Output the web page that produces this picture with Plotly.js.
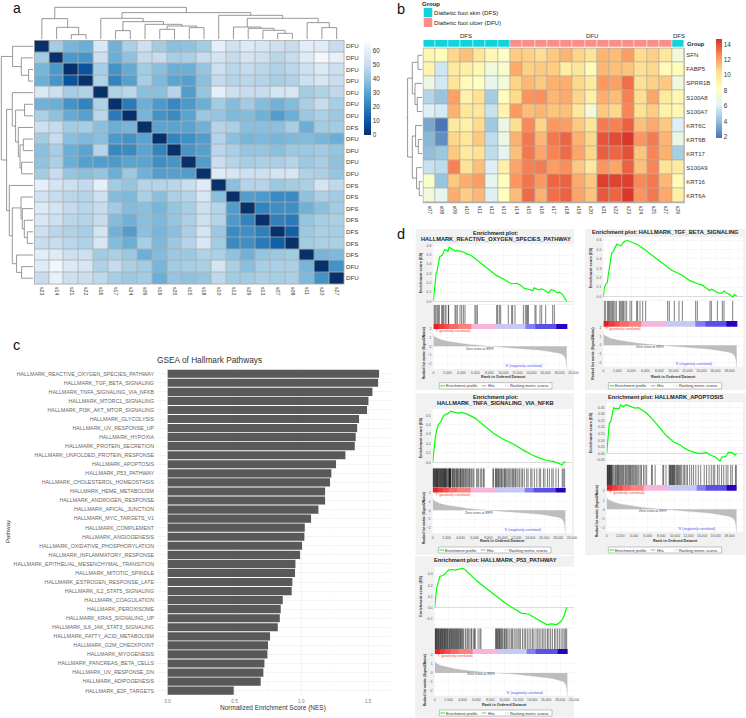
<!DOCTYPE html>
<html><head><meta charset="utf-8">
<script src="https://cdn.plot.ly/plotly-3.0.1.min.js"></script>
<style>html,body{margin:0;padding:0;background:#fff}#p{width:746px;height:718px}</style>
</head><body><div id="p"></div>
<script>
// ---------- panel a data ----------
const colsA=['s23','s14','s21','s22','s16','s17','s24','s09','s19','s25','s15','s18','s10','s12','s29','s13','s07','s08','s11','s20','s27'];
const rowsA=['DFU','DFU','DFU','DFU','DFU','DFU','DFU','DFS','DFU','DFU','DFU','DFU','DFS','DFS','DFS','DFS','DFS','DFS','DFS','DFU','DFU'];
const matrixA=[
[0,42,35,33,56,34,44,52,42,38,39,42,60,53,57,55,52,50,59,58,50],
[42,0,27,26,52,33,39,49,50,43,44,50,54,50,54,52,47,50,58,64,61],
[35,27,0,9,43,25,32,42,38,33,33,40,52,47,49,47,45,47,52,57,52],
[33,26,9,0,45,21,29,43,36,30,29,38,49,46,47,46,43,45,52,55,51],
[56,52,43,45,0,45,47,38,38,46,28,40,60,52,50,50,54,55,42,45,48],
[34,33,25,21,45,0,19,33,27,22,27,33,42,37,42,37,34,37,44,50,43],
[44,39,32,29,47,19,0,35,25,23,30,41,40,36,37,34,28,33,41,44,41],
[52,49,42,43,38,33,35,0,30,30,30,34,46,44,38,38,38,43,33,42,42],
[42,50,38,36,38,27,25,30,0,21,24,28,46,38,35,36,35,36,37,35,33],
[38,43,33,30,46,22,23,30,21,0,26,29,47,44,40,40,38,41,41,42,40],
[39,44,33,29,28,27,30,30,24,26,0,28,51,46,43,44,44,46,41,43,39],
[42,50,40,38,40,33,41,34,28,29,28,0,58,55,52,52,54,55,45,44,40],
[60,54,52,49,60,42,40,46,46,47,51,58,0,38,46,46,41,42,44,54,48],
[53,50,47,46,52,37,36,44,38,44,46,55,38,0,28,27,23,23,39,44,42],
[57,54,49,47,50,42,37,38,35,40,43,52,46,28,0,21,24,24,34,38,42],
[55,52,47,46,50,37,34,38,36,40,44,52,46,27,21,0,20,19,40,43,44],
[52,47,45,43,54,34,28,38,35,38,44,54,41,23,24,20,0,12,41,44,43],
[50,50,47,45,55,37,33,43,36,41,46,55,42,23,24,19,12,0,42,44,44],
[59,58,52,52,42,44,41,33,37,41,41,45,44,39,34,40,41,42,0,35,36],
[58,64,57,55,45,50,44,42,35,42,43,44,54,44,38,43,44,44,35,0,25],
[50,61,52,51,48,43,41,42,33,40,39,40,48,42,42,44,43,44,36,25,0]];
// merges: [child, child, height]; child >=0 is a leaf, -k is the k-th merge
const dendroA=[[2,3,4.7],[1,-1,12],[0,-2,20.7],[5,6,8.7],[8,9,10],[10,11,11.7],[-5,-6,13.3],[7,-7,15],[-4,-8,17.7],[4,-9,21],
[16,17,6],[15,-11,9],[14,-12,11],[13,-13,12.3],[19,20,11.7],[18,-15,16.7],[-14,-16,21],[12,-17,24],[-10,-18,26.7],[-3,-19,32]];
// ---------- panel b data ----------
const colsB=['s07','s08','s09','s10','s11','s12','s13','s14','s15','s16','s17','s18','s19','s20','s21','s22','s23','s24','s25','s27','s29'];
const groupB=[0,0,0,0,0,0,0,1,1,1,1,1,1,1,1,1,1,1,1,1,0];
const genesB=['SFN','FABP5','SPRR1B','S100A8','S100A7','KRT6C','KRT6B','KRT17','S100A9','KRT16','KRT6A'];
const matrixB=[
[8.9,8.4,10.6,11.2,10,8.8,8.0,10.9,10.8,10.4,11,11.5,10.7,10.1,11.5,11.3,12.1,10.5,10.8,9.9,7.3],
[9,5.6,9.7,9.4,8.7,7.3,7.7,11.8,10.8,11,10.9,9.5,10,8.5,11.4,11.2,11.1,10.3,10.6,8.6,8.5],
[7,5.7,10,8.5,8.2,6.5,7.4,10.7,11.4,11,11.6,11.7,10.6,9.7,12.2,12,13.2,10.3,10.8,11,7.2],
[4.9,4.2,12,9.2,10.2,4.5,8.4,10.5,12.4,12.5,11.5,11.8,10.7,9.3,11.7,11.3,12.8,10.4,11.9,9.7,8.8],
[6,5.8,11.6,9.9,9.8,5.4,9,12.2,11.3,11.5,11.1,11.2,9.8,7.4,11,10.6,12.7,10.2,10.9,9.1,8.8],
[3.3,1.9,9.7,9.3,10.5,4.4,6.8,10.4,12.6,10.7,12.2,12.1,11,10,12.9,12.8,13.5,11.2,11.8,11,6],
[3.8,2.6,10.6,9.9,11,5.2,6.9,11.6,13,11.4,13,13.4,11.6,10.6,13.8,14,14.5,12.3,12.9,11.5,6.8],
[4,4.3,11,9.7,10.2,5.2,6.3,11.2,13,11.9,12.7,13.3,11.9,10.6,13.6,13.4,13.9,11.1,12.7,11.6,4.6],
[5.4,5.2,12.8,10.2,11.2,6,9.3,11.9,12.8,12.9,12.1,12.5,11,9.7,12.3,11.9,13.5,11.2,12.7,10.1,9.6],
[7.9,4.2,11,11.7,12.1,6.5,8.3,12.3,13.1,12.2,13.4,13.5,11.8,11,14.3,14.2,14.3,12.6,13,11.4,8.5],
[7.2,6.5,11.7,10.9,11.4,6,8.3,11.3,13.3,11.6,13.2,13.5,11.9,11.1,13.7,13.4,14.5,12.3,13,11.8,9.4]];
const dendroB=[[0,1,4.3],[3,4,5],[2,-2,7.3],[-1,-3,10],[6,7,4],[5,-5,6.7],[9,10,3],[8,-7,5.7],[-6,-8,10],[-4,-9,14.7]];
// ---------- panel c data ----------
const pathways=['HALLMARK_REACTIVE_OXYGEN_SPECIES_PATHWAY','HALLMARK_TGF_BETA_SIGNALING','HALLMARK_TNFA_SIGNALING_VIA_NFKB','HALLMARK_MTORC1_SIGNALING','HALLMARK_PI3K_AKT_MTOR_SIGNALING','HALLMARK_GLYCOLYSIS','HALLMARK_UV_RESPONSE_UP','HALLMARK_HYPOXIA','HALLMARK_PROTEIN_SECRETION','HALLMARK_UNFOLDED_PROTEIN_RESPONSE','HALLMARK_APOPTOSIS','HALLMARK_P53_PATHWAY','HALLMARK_CHOLESTEROL_HOMEOSTASIS','HALLMARK_HEME_METABOLISM','HALLMARK_ANDROGEN_RESPONSE','HALLMARK_APICAL_JUNCTION','HALLMARK_MYC_TARGETS_V1','HALLMARK_COMPLEMENT','HALLMARK_ANGIOGENESIS','HALLMARK_OXIDATIVE_PHOSPHORYLATION','HALLMARK_INFLAMMATORY_RESPONSE','HALLMARK_EPITHELIAL_MESENCHYMAL_TRANSITION','HALLMARK_MITOTIC_SPINDLE','HALLMARK_ESTROGEN_RESPONSE_LATE','HALLMARK_IL2_STAT5_SIGNALING','HALLMARK_COAGULATION','HALLMARK_PEROXISOME','HALLMARK_KRAS_SIGNALING_UP','HALLMARK_IL6_JAK_STAT3_SIGNALING','HALLMARK_FATTY_ACID_METABOLISM','HALLMARK_G2M_CHECKPOINT','HALLMARK_MYOGENESIS','HALLMARK_PANCREAS_BETA_CELLS','HALLMARK_UV_RESPONSE_DN','HALLMARK_ADIPOGENESIS','HALLMARK_E2F_TARGETS'];
const nes=[1.582,1.575,1.532,1.502,1.492,1.432,1.418,1.407,1.400,1.330,1.260,1.225,1.215,1.178,1.178,1.128,1.073,1.026,1.023,1.006,0.991,0.956,0.953,0.933,0.928,0.861,0.846,0.839,0.824,0.766,0.751,0.746,0.724,0.716,0.696,0.494];
// ---------- panel d data ----------
const rankMetricX=[0,30,200,500,1000,2000,3000,4000,5000,6000,7000,8000,8999,10000,11000,12000,13000,14000,15000,16000,17000,18000,18500,18800,18950,19050];
const rankMetricY=[1.5,1.3,1.1,0.95,0.8,0.6,0.45,0.33,0.22,0.14,0.08,0.03,0,-0.05,-0.1,-0.18,-0.25,-0.33,-0.42,-0.52,-0.63,-0.8,-0.95,-1.25,-1.7,-2.7];
const barEdges=[0,700,1500,2300,3500,5450,9000,13200,14500,17600,19100];
const barColors=['#e81f1f','#ee3a3a','#f45050','#f76a6a','#fb8080','#f6b6dc','#c8c8f6','#8080f0','#5a50e6','#2a00c0'];
const esRos=[[0,150,250,300,400,500,700,800,900,1100,1300,1500,1700,1900,2100,2250,2600,2900,3200,3400,3800,4400,4800,5300,6000,7000,8000,9000,10000,11000,11400,11900,12500,13000,13800,14200,14400,15000,15500,16000,16500,16800,17200,17800,18000,18500,19050],
[0,.12,.16,.26,.30,.31,.38,.44,.48,.49,.50,.54,.56,.55,.54,.585,.565,.555,.54,.55,.545,.53,.51,.50,.46,.40,.34,.28,.24,.195,.19,.195,.17,.14,.125,.115,.145,.125,.135,.11,.09,.125,.12,.09,.10,.07,0]];
const esTgf=[[0,140,330,570,710,860,1000,1190,1430,1670,1900,2240,2520,2860,3100,3480,4050,4760,5710,6900,8330,9760,11190,12380,13330,14050,14760,15140,15480,15950,16430,16900,17240,17620,18100,18480,18710,19050],
[0,.09,.13,.15,.23,.30,.41,.46,.48,.53,.555,.548,.54,.575,.59,.595,.58,.555,.51,.44,.355,.28,.23,.17,.14,.125,.09,.065,.08,.06,.04,.035,.06,.04,.02,-.005,.025,.005]];
const esTnfa=[[0,100,240,380,570,810,1150,1530,1870,2250,2580,3210,3680,4160,4880,6080,7270,8710,10140,11580,13010,14210,15170,16360,17320,18040,18610,18850,19090],
[0,.095,.18,.27,.34,.40,.43,.49,.51,.52,.545,.53,.52,.53,.515,.47,.40,.31,.245,.195,.13,.08,.05,.02,.01,-.005,-.025,.005,0]];
const esApop=[[0,100,240,390,590,830,1030,1220,1470,1810,2050,2440,2790,3180,3670,4160,4650,5130,5870,6850,7820,8800,9780,10760,11490,12470,13450,14180,14670,15160,15890,16630,16920,17460,17850,18340,18830,19070],
[0,.078,.154,.23,.24,.305,.35,.34,.343,.34,.368,.355,.37,.363,.353,.345,.348,.33,.305,.254,.196,.133,.09,.065,.04,.015,.0025,.0025,.01,-.01,-.023,-.055,-.025,-.023,.01,.0075,-.01,-.003]];
const esP53=[[0,140,290,480,770,1100,1480,1960,2440,2920,3400,3970,4350,5070,6030,7460,8900,10330,11530,12490,13440,14160,15120,16070,16790,17510,17990,18330,18570,18800,18950],
[0,.10,.175,.22,.28,.285,.30,.335,.34,.335,.345,.35,.34,.30,.24,.17,.10,.035,-.012,-.047,-.053,-.077,-.11,-.147,-.14,-.147,-.127,-.10,-.07,-.018,.006]];
const hitsRos=[100,240,380,570,710,860,1190,1330,1430,1670,1810,2140,2190,3100,3240,3430,3810,4050,4290,4520,5950,6100,6290,9050,9190,9430,9620,10710,11190,11330,11670,12860,13140,13330,13480,13570,14520,14670,15240,15480,16050,17050,17290];
const hitsTgf=[140,330,620,710,860,1000,1190,1330,1480,1670,1860,2290,2430,2620,2760,2900,3100,3330,3810,4050,4760,4900,5240,5620,6050,9190,9430,10140,10810,11290,13190,13430,15240,15430,16290,17000,17240,18480];
const hitsTnfa=[30,90,160,220,300,350,430,500,540,610,690,740,800,880,960,1030,1100,1180,1220,1290,1400,1450,1520,1590,1640,1700,1780,1830,1900,1960,2050,2110,2290,2340,2380,2420,2460,2510,2560,2590,2770,2840,2950,3050,3120,3240,3380,3470,3530,3640,3760,3890,4000,4060,4190,4300,4420,4540,4690,4800,4930,5070,5210,5300,5480,5610,5790,5930,6310,6480,6620,6900,7050,7280,7400,8650,8720,9000,9080,9190,9280,9420,9510,9640,9790,9880,10050,10230,10320,10460,10620,10800,10950,11100,11270,11460,11610,11790,11900,12100,12260,12480,12700,12900,13150,13500,13700,14080,14260,14600,14950,15300,15500,15900,16120,16480,16750,17100,17300,17700,18050,18600,18750,18950];
const hitsApop=[40,90,150,210,290,350,410,470,530,600,670,730,810,920,1070,1230,1330,1490,1560,1660,1750,1900,2010,2170,2300,2440,2550,2740,2850,2980,3130,3250,3370,3520,3600,3770,3910,4050,4220,4370,4560,4720,4930,5110,5410,5630,5870,6590,6700,7110,8240,8360,8710,9150,9250,9320,9400,9490,9590,9670,9760,9840,9930,10010,10170,10290,10400,10530,10680,10820,11000,11240,11430,11650,11850,12180,12470,12750,13080,13440,13800,14310,14660,15020,15350,15640,15850,16250,16500,16860,17170,17530,17790,18200,18430,18890,19020];
const hitsP53=[40,110,180,240,310,370,460,540,600,670,780,850,930,1000,1090,1160,1240,1340,1420,1490,1560,1680,1760,1850,1930,2050,2130,2250,2340,2430,2520,2610,2720,2810,2900,3010,3100,3190,3300,3380,3480,3600,3700,3790,3900,4030,4120,4380,4500,4750,4820,5060,5250,5340,5620,5700,5830,6230,6500,6640,8760,8830,8920,9040,9110,9230,9300,9420,9530,9640,9760,9950,10040,10200,10320,10500,10700,10960,11100,11230,11500,11700,11950,12120,12300,12600,12850,13050,13300,13550,13800,14050,14250,14550,14800,15000,15250,15500,15700,15950,16200,16400,16650,16900,17200,17400,17650,17900,18150,18400,18600,18800,18950];

// ---------- helpers ----------
const W=746,H=718,FONT='"Liberation Sans",Arial,sans-serif';
const layout={width:W,height:H,margin:{l:0,r:0,t:0,b:0,autoexpand:false},paper_bgcolor:'#fff',plot_bgcolor:'rgba(0,0,0,0)',showlegend:false,font:{family:FONT},shapes:[],annotations:[]};
const traces=[];
let nAxes=0;
const hd=(a,b)=>[a/W,b/W],vd=(a,b)=>[1-b/H,1-a/H];
function pair(xr,yr,xo,yo){
  const n=++nAxes,s=n===1?'':String(n),base={showgrid:false,zeroline:false,showticklabels:false,ticks:'',showline:false,automargin:false};
  layout['xaxis'+s]=Object.assign({},base,{domain:hd(xr[0],xr[1]),anchor:'y'+s},xo||{});
  layout['yaxis'+s]=Object.assign({},base,{domain:vd(yr[0],yr[1]),anchor:'x'+s},yo||{});
  return {xaxis:'x'+s,yaxis:'y'+s};
}
function rect(x0,x1,y0,y1,fill,line,lw){layout.shapes.push({type:'rect',xref:'paper',yref:'paper',layer:'below',x0:x0/W,x1:x1/W,y0:1-y0/H,y1:1-y1/H,fillcolor:fill,line:{color:line||fill,width:line?(lw||0.5):0}});}
function seg(x0,x1,y,color,w){layout.shapes.push({type:'line',xref:'paper',yref:'paper',x0:x0/W,x1:x1/W,y0:1-y/H,y1:1-y/H,line:{color:color,width:w||1}});}
function txt(t,x,y,size,o){o=o||{};layout.annotations.push({text:t,xref:'paper',yref:'paper',x:x/W,y:1-y/H,showarrow:false,xanchor:o.a||'left',yanchor:'middle',align:o.a||'left',textangle:o.r||0,font:{size:size,color:o.c||'#222',family:FONT},borderpad:0,borderwidth:0});}
function dendro(merges,n,ax,horizontal,stub){
  const pos=[],hgt=[],xs=[],ys=[];
  const P=c=>c>=0?c:pos[-c-1],Q=c=>c>=0?0:hgt[-c-1];
  merges.forEach(m=>{
    const p0=P(m[0]),p1=P(m[1]),h0=Q(m[0]),h1=Q(m[1]),h=m[2];
    pos.push((p0+p1)/2);hgt.push(h);
    xs.push(p0,p0,p1,p1,null);ys.push(h0,h,h,h1,null);
  });
  if(stub){xs.push(pos[pos.length-1],pos[pos.length-1],null);ys.push(hgt[hgt.length-1],hgt[hgt.length-1]+stub,null);}
  traces.push(Object.assign({type:'scatter',mode:'lines',x:horizontal?ys:xs,y:horizontal?xs:ys,line:{color:'#7d7d7d',width:0.8},hoverinfo:'skip'},ax));
}
const idx=a=>a.map((_,i)=>i);

// ---------- panel letters ----------
txt('a',12.5,8,14,{c:'#111'});txt('b',396.5,9,14.5,{c:'#111'});txt('c',12.5,345,14.5,{c:'#111'});txt('d',396.5,234.5,14.5,{c:'#111'});

// ---------- panel a ----------
const ax0=34.5,ax1=344,ay0=40.5,ay1=284;
rect(ax0-0.5,ax1+0.5,ay0-0.5,ay1+0.5,'#adadad');
const aAxes=pair([ax0,ax1],[ay0,ay1],
 {range:[-0.5,20.5],tickvals:idx(colsA),ticktext:colsA,showticklabels:true,tickangle:90,tickfont:{size:5.2,color:'#333'},ticklabelstandoff:2},
 {range:[20.5,-0.5],tickvals:idx(rowsA),ticktext:rowsA,showticklabels:true,side:'right',tickfont:{size:6.2,color:'#333'},ticklabelstandoff:1});
traces.push(Object.assign({type:'heatmap',x:idx(colsA),y:idx(rowsA),z:matrixA,zmin:0,zmax:66,xgap:0.8,ygap:0.8,hoverinfo:'skip',
 colorscale:[[0,'#08306b'],[.125,'#08519c'],[.25,'#2171b5'],[.375,'#4292c6'],[.5,'#6baed6'],[.625,'#9ecae1'],[.75,'#c6dbef'],[.875,'#deebf7'],[1,'#f7fbff']],
 colorbar:{thickness:7,thicknessmode:'pixels',len:92.7,lenmode:'pixels',x:364/W,xanchor:'left',y:1-42/H,yanchor:'top',xpad:0,ypad:0,outlinewidth:0,ticks:'',tickvals:[0,10,20,30,40,50,60],tickfont:{size:6.3,color:'#333'},ticklabelpad:1}},aAxes));
dendro(dendroA,21,pair([ax0,ax1],[3,39.33],{range:[-0.5,20.5]},{range:[0,36.33]}),false);
dendro(dendroA,21,pair([0,33.3],[ay0,ay1],{range:[33.3,0]},{range:[20.5,-0.5]}),true);

// ---------- panel b ----------
const bx0=423.3,bx1=684.3,by0=48.3,by1=202.7;
rect(bx0-0.5,bx1+0.5,by0-0.5,by1+0.5,'#adadad');
const bAxes=pair([bx0,bx1],[by0,by1],
 {range:[-0.5,20.5],tickvals:idx(colsB),ticktext:colsB,showticklabels:true,tickangle:90,tickfont:{size:5.2,color:'#333'},ticklabelstandoff:2},
 {range:[10.5,-0.5],tickvals:idx(genesB),ticktext:genesB,showticklabels:true,side:'right',tickfont:{size:6,color:'#333'},ticklabelstandoff:1});
traces.push(Object.assign({type:'heatmap',x:idx(colsB),y:idx(genesB),z:matrixB,zmin:1.85,zmax:14.65,xgap:0.8,ygap:0.8,hoverinfo:'skip',
 colorscale:[[0,'#4575b4'],[1/6,'#91bfdb'],[2/6,'#e0f3f8'],[3/6,'#ffffbf'],[4/6,'#fee090'],[5/6,'#fc8d59'],[1,'#d73027']],
 colorbar:{thickness:6,thicknessmode:'pixels',len:99,lenmode:'pixels',x:715.7/W,xanchor:'left',y:1-39.3/H,yanchor:'top',xpad:0,ypad:0,outlinewidth:0,ticks:'',tickvals:[2,4,6,8,10,12,14],tickfont:{size:6.3,color:'#333'},ticklabelpad:2}},bAxes));
traces.push(Object.assign({type:'heatmap',x:idx(colsB),y:[0],z:[groupB],zmin:0,zmax:1,xgap:0.6,showscale:false,hoverinfo:'skip',
 colorscale:[[0,'#10d4dc'],[0.5,'#10d4dc'],[0.5,'#fa8f88'],[1,'#fa8f88']]},pair([bx0,bx1],[40,46.7],{range:[-0.5,20.5]},{range:[-0.5,0.5]})));
dendro(dendroB,11,pair([400,422.3],[by0,by1],{range:[22.3,0]},{range:[10.5,-0.5]}),true,1);
txt('<b>Group</b>',422,3.8,6,{});
rect(423.7,432.3,8,17,'#10d4dc');rect(423.7,432.3,18,27,'#fa8f88');
txt('Diabetic foot skin (DFS)',434,12.5,6.1);txt('Diabetic foot ulcer (DFU)',434,22.5,6.1);
txt('DFS',466,36,6,{a:'center'});txt('DFU',591.5,36,6,{a:'center'});txt('DFS',679,36,6,{a:'center'});
txt('<b>Group</b>',687,43.8,5.8);

// ---------- panel c ----------
const cAxes=pair([157,389.5],[368.3,696.1],
 {range:[-0.08,1.66],tick0:0,dtick:0.5,tickformat:'.1f',showticklabels:true,showgrid:true,gridcolor:'#ececec',gridwidth:0.6,tickfont:{size:4.6,color:'#777'},
  minor:{tickvals:[0.25,0.75,1.25],showgrid:true,gridcolor:'#f5f5f5',gridwidth:0.4},ticklabelstandoff:1},
 {type:'category',range:[35.6,-0.6],showticklabels:true,showgrid:true,gridcolor:'#ececec',gridwidth:0.6,tickfont:{size:5.3,color:'#666'},ticklabelstandoff:2});
traces.push(Object.assign({type:'bar',orientation:'h',x:nes,y:pathways,width:0.9,marker:{color:'#595959',line:{width:0}},hoverinfo:'skip'},cAxes));
txt('GSEA of Hallmark Pathways',156.7,360,8.3,{c:'#333'});
txt('Normalized Enrichment Score (NES)',273,708,6.5,{a:'center',c:'#333'});
txt('Pathway',8,532,6,{a:'center',r:-90,c:'#333'});

// ---------- panel d ----------
const tickLab={size:3.4,color:'#555'};
const panelsD=[
 {ox:400,oy:225,card:[47,522,12,495],x0:100,x1:520,es:[57,237],er:[-.029,.619],ed:.1,eT:'.1f',hits:[240,297],bar:[297,312],rk:[312,432],rr:[-2.615,2.0],leg:[118,456,473,492],
  title:[['Enrichment plot:',285,23],['HALLMARK_REACTIVE_OXYGEN_SPECIES_PATHWAY',287,43]],xt:[310,456],lab1:[63,145],lab2:[72,385],curve:esRos,hit:hitsRos},
 {ox:575,oy:225,card:[30,512,12,495],x0:85,x1:505,es:[37,225],er:[-.035,.629],ed:.1,eT:'.1f',hits:[227,288],bar:[288,305],rk:[305,425],rr:[-2.42,2.11],leg:[100,440,473,492],
  title:[['Enrichment plot: HALLMARK_TGF_BETA_SIGNALING',272,22]],xt:[295,456],lab1:[48,130],lab2:[55,385],curve:esTgf,hit:hitsTgf},
 {ox:400,oy:390,card:[47,522,10,495],x0:98,x1:516,es:[57,232],er:[-.053,.567],ed:.1,eT:'.1f',hits:[235,293],bar:[293,308],rk:[308,430],rr:[-2.65,2.04],leg:[115,453,471,489],
  title:[['Enrichment plot:',285,20],['HALLMARK_TNFA_SIGNALING_VIA_NFKB',287,39]],xt:[308,453],lab1:[63,145],lab2:[72,385],curve:esTnfa,hit:hitsTnfa},
 {ox:575,oy:390,card:[30,512,10,495],x0:95,x1:504,es:[37,222],er:[-.078,.388],ed:.05,eT:'.2f',hits:[224,285],bar:[285,302],rk:[302,425],rr:[-2.48,2.07],leg:[100,440,471,489],
  title:[['Enrichment plot: HALLMARK_APOPTOSIS',271,20]],xt:[300,453],lab1:[48,130],lab2:[65,365],curve:esApop,hit:hitsApop},
 {ox:400,oy:550,card:[45,522,18,503],x0:104,x1:522,es:[50,232],er:[-.171,.365],ed:.1,eT:'.1f',hits:[235,297],bar:[297,313],rk:[313,437],rr:[-2.52,2.07],leg:[118,456,480,498],
  title:[['Enrichment plot: HALLMARK_P53_PATHWAY',287,31]],xt:[313,465],lab1:[63,140],lab2:[74,392],curve:esP53,hit:hitsP53}];
const zIdx=barColors.map((_,i)=>i);
const barScale=barColors.map((c,i)=>[i/(barColors.length-1),c]);
panelsD.forEach(p=>{
  const X=v=>p.ox+v/3,Y=v=>p.oy+v/3,xr=[X(p.x0),X(p.x1)],xrange=[0,20000];
  rect(X(p.card[0]),X(p.card[1]),Y(p.card[2]),Y(p.card[3]),'#f1f1f1');
  rect(xr[0],xr[1],Y(p.es[0]),Y(p.es[1]),'#fff');
  rect(xr[0],xr[1],Y(p.hits[0]),Y(p.rk[1]),'#fff');
  // ES curve
  const e=pair(xr,[Y(p.es[0]),Y(p.es[1])],
    {range:xrange,dtick:2000,tick0:0,showgrid:true,gridcolor:'#ececec',gridwidth:0.4},
    {range:p.er,dtick:p.ed,tick0:0,tickformat:p.eT,showticklabels:true,showgrid:true,gridcolor:'#ececec',gridwidth:0.4,tickfont:tickLab,zeroline:true,zerolinecolor:'#bbb',zerolinewidth:0.5,ticklabelstandoff:1});
  traces.push(Object.assign({type:'scatter',mode:'lines',x:p.curve[0],y:p.curve[1],line:{color:'#00ff00',width:1.2},hoverinfo:'skip'},e));
  // hits
  const hx=[],hy=[];p.hit.forEach(r=>{hx.push(r,r,null);hy.push(0,1,null);});
  traces.push(Object.assign({type:'scatter',mode:'lines',x:hx,y:hy,line:{color:'rgba(0,0,0,0.72)',width:0.7},hoverinfo:'skip'},
    pair(xr,[Y(p.hits[0]),Y(p.hits[1])],{range:xrange},{range:[0,1]})));
  // colour band
  traces.push(Object.assign({type:'heatmap',x:barEdges,y:[0,1],z:[zIdx],zmin:0,zmax:barColors.length-1,showscale:false,colorscale:barScale,hoverinfo:'skip'},
    pair(xr,[Y(p.bar[0]),Y(p.bar[1])],{range:xrange},{range:[0,1]})));
  // ranked metric
  const r=pair(xr,[Y(p.rk[0]),Y(p.rk[1])],
    {range:xrange,dtick:2000,tick0:0,tickformat:',d',showticklabels:true,showgrid:true,gridcolor:'#eeeeee',gridwidth:0.4,tickfont:tickLab,ticklabelstandoff:1},
    {range:p.rr,dtick:1,tick0:0,showticklabels:true,showgrid:true,gridcolor:'#eeeeee',gridwidth:0.4,tickfont:tickLab,ticklabelstandoff:1});
  traces.push(Object.assign({type:'scatter',mode:'lines',x:rankMetricX,y:rankMetricY,fill:'tozeroy',fillcolor:'#bdbdbd',line:{color:'#bdbdbd',width:0.3},hoverinfo:'skip'},r));
  // texts
  p.title.forEach(t=>txt('<b>'+t[0]+'</b>',X(t[1]),Y(t[2]),5.7,{a:'center',c:'#222'}));
  txt('<b>Rank in Ordered Dataset</b>',X(p.xt[0]),Y(p.xt[1]),3.8,{a:'center',c:'#333'});
  txt('<b>Enrichment score (ES)</b>',X(p.lab1[0]),Y(p.lab1[1]),3.8,{a:'center',r:-90,c:'#333'});
  txt('<b>Ranked list metric (Signal2Noise)</b>',X(p.lab2[0]),Y(p.lab2[1]),3.3,{a:'center',r:-90,c:'#333'});
  txt("'T' (positively correlated)",X(p.x0+6),Y(p.rk[0]+6),3.3,{c:'#e83a3a'});
  txt('Zero cross at 8999',X(p.x0+140),Y(p.rk[0]+60),3.3,{a:'center',c:'#444'});
  txt("'S' (negatively correlated)",X(p.x0+270),Y(p.rk[1]-9),3.3,{a:'center',c:'#4a4af0'});
  // legend
  const l=p.leg;
  rect(X(l[0]),X(l[1]),Y(l[2]),Y(l[3]),'#fff','#8a8a8a',0.5);
  const my=Y((l[2]+l[3])/2);
  seg(X(l[0]+3),X(l[0]+17),my,'#00ff00',1);
  txt('Enrichment profile',X(l[0]+20),my,3.9,{c:'#333'});
  seg(X(l[0]+127),X(l[0]+141),my,'#444',0.5);
  txt('Hits',X(l[0]+145),my,3.9,{c:'#333'});
  seg(X(l[0]+196),X(l[0]+209),my,'#bbb',0.5);
  txt('Ranking metric scores',X(l[0]+212),my,3.9,{c:'#333'});
});

Plotly.newPlot('p',traces,layout,{staticPlot:true,displayModeBar:false});
</script></body></html>
